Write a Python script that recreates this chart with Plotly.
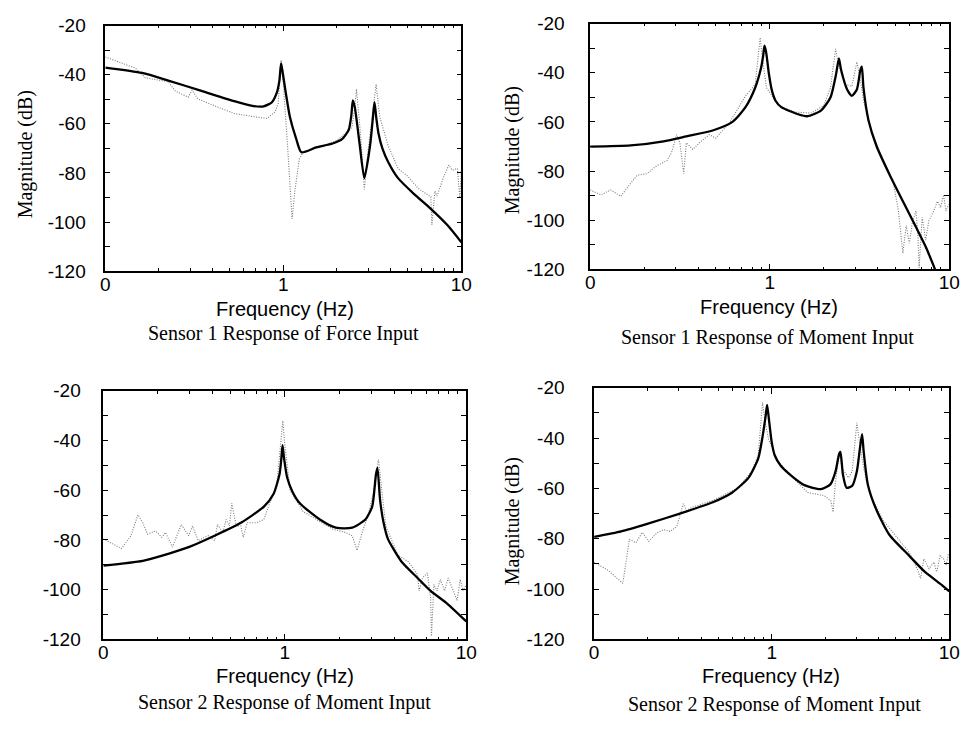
import plotly.graph_objects as go

# ---------------- data ----------------
tick_vals = [0.1, 1, 10]
tick_text = ["0", "1", "10"]
y_tick_vals = [-120, -110, -100, -90, -80, -70, -60, -50, -40, -30, -20]
y_tick_text = ["-120", "", "-100", "", "-80", "", "-60", "", "-40", "", "-20"]

captions = ["Sensor 1 Response of Force Input", "Sensor 1 Response of Moment Input",
            "Sensor 2 Response of Moment Input", "Sensor 2 Response of Moment Input"]

# Panel 1 – model fit (solid)
p1_fit_f = [0.1, 0.161, 0.226, 0.347, 0.53, 0.683, 0.775, 0.863, 0.92, 0.95, 0.971, 0.99, 1.03, 1.088, 1.18, 1.263,
            1.53, 1.89, 2.145, 2.33, 2.41, 2.456, 2.52, 2.68, 2.85, 3.07, 3.18, 3.25, 3.32, 3.42, 3.6, 3.88, 4.41, 5.45, 6.74, 8.34, 10]
p1_fit_db = [-37.1, -39.3, -42.4, -46.6, -50.8, -52.8, -52.9, -51.2, -47.2, -42.5, -35.4, -38.7, -47.0, -57.1, -66.0, -71.6,
             -69.6, -68.0, -66.1, -62.4, -56.5, -50.5, -53.2, -68.0, -82.1, -68.9, -58.0, -51.2, -57.0, -63.7, -70.0, -75.5, -82.1, -88.7, -94.6, -101.2, -108.2]
# Panel 1 – measured (dotted)
p1_meas_f = [0.1, 0.148, 0.168, 0.191, 0.226, 0.247, 0.292, 0.307, 0.332, 0.428, 0.53, 0.743, 0.81, 0.9,
             0.935, 0.971, 1.0, 1.056, 1.1, 1.12, 1.16, 1.23, 1.29, 1.58, 1.97, 2.33, 2.43, 2.52, 2.575,
             2.71, 2.85, 3.0, 3.32, 3.48, 3.88, 4.41, 5.01, 5.69, 6.2, 6.74, 6.83, 7.1, 7.3, 7.9, 8.5,
             8.9, 9.5, 9.8, 10]
p1_meas_db = [-32.8, -37.4, -41.3, -42.0, -42.9, -46.6, -49.2, -46.3, -49.9, -53.2, -55.8, -57.5, -57.8, -55.1,
              -51.8, -34.1, -43.9, -68.9, -87.4, -98.6, -87.4, -74.2, -71.6, -69.6, -67.0, -63.0, -61.3, -53.2, -45.9,
              -63.7, -86.7, -70.3, -43.9, -57.1, -68.9, -78.2, -81.4, -86.1, -88.0, -89.7, -101.2, -87.4, -89.4, -82.1, -76.8,
              -78.9, -78.2, -90.0, -78.9]

# Panel 2
p2_fit_f = [0.1, 0.168, 0.256, 0.343, 0.481, 0.62, 0.733, 0.83, 0.894, 0.92, 0.935, 0.955, 0.99, 1.03, 1.08, 1.16, 1.44,
            1.62, 1.93, 2.18, 2.34, 2.43, 2.5, 2.7, 2.87, 3.06, 3.2, 3.26, 3.33, 3.55, 3.94, 4.67, 5.52,
            6.53, 7.4, 8.34]
p2_fit_db = [-70.1, -69.6, -67.9, -65.9, -63.5, -60.0, -54.0, -46.1, -38.2, -33.0, -29.0, -31.6, -40.5, -47.4, -51.5, -54.0, -56.9,
             -57.7, -55.4, -50.1, -40.8, -34.2, -38.9, -46.8, -49.4, -46.8, -38.9, -37.5, -46.1, -59.3, -69.9, -81.7, -92.3,
             -102.8, -110.8, -120.0]
p2_meas_f = [0.1, 0.115, 0.13, 0.148, 0.168, 0.183, 0.207, 0.235, 0.267, 0.284, 0.303, 0.316, 0.332, 0.343,
             0.373, 0.406, 0.46, 0.5, 0.594, 0.733, 0.83, 0.885, 0.91, 0.96, 1.12, 1.38, 1.7, 2.0, 2.18,
             2.33, 2.43, 2.64, 2.87, 3.06, 3.2, 3.33, 3.63, 4.11, 4.87, 5.2, 5.52, 5.76, 6.0, 6.26, 6.53,
             6.7, 6.8, 7.07, 7.4, 7.7, 8.2, 8.6, 8.95, 9.3, 9.6, 9.95]
p2_meas_db = [-87.7, -89.7, -87.7, -90.3, -85.0, -81.7, -81.1, -77.8, -75.8, -72.5, -65.2, -68.5, -81.1, -68.5,
              -71.2, -68.5, -65.2, -66.6, -60.6, -49.4, -44.8, -25.7, -34.2, -46.1, -53.4, -56.0, -56.4, -53.4, -46.1,
              -30.3, -37.5, -44.8, -45.5, -35.6, -42.8, -51.4, -62.0, -72.5, -84.4, -95.6, -113.4, -102.2, -109.4, -100.2, -96.3,
              -106.8, -119.3, -98.9, -108.1, -100.2, -96.3, -92.3, -94.9, -89.7, -96.3, -93.6]

# Panel 3
p3_fit_f = [0.1, 0.165, 0.23, 0.295, 0.41, 0.573, 0.767, 0.868, 0.935, 0.955, 0.971, 0.99, 1.03, 1.1, 1.21, 1.56,
            1.91, 2.35, 2.78, 3.03, 3.18, 3.24, 3.35, 3.5, 3.7, 4.4, 5.39, 6.36, 7.87, 10]
p3_fit_db = [-90.3, -88.4, -85.5, -82.9, -78.3, -73.1, -66.6, -61.4, -53.6, -48.0, -41.9, -47.1, -54.9, -60.5, -65.3, -71.8,
             -75.1, -75.1, -71.8, -66.6, -53.6, -51.0, -64.0, -73.0, -79.6, -88.8, -95.3, -100.5, -105.7, -112.8]
p3_meas_f = [0.1, 0.113, 0.126, 0.142, 0.155, 0.165, 0.175, 0.194, 0.21, 0.22, 0.24, 0.269, 0.295, 0.31,
             0.333, 0.378, 0.41, 0.426, 0.455, 0.475, 0.495, 0.51, 0.54, 0.573, 0.59, 0.62, 0.7, 0.767,
             0.83, 0.9, 0.975, 1.0, 1.07, 1.26, 1.56, 1.84, 2.16, 2.35, 2.5, 2.67, 2.9, 3.07, 3.28,
             3.42, 3.6, 4.2, 4.8, 5.39, 5.5, 5.74, 6.1, 6.36, 6.43, 6.63, 6.9, 7.2, 7.6, 7.95, 8.5,
             8.9, 9.26, 9.6, 10]
p3_meas_db = [-79.6, -81.6, -83.5, -78.3, -69.9, -73.1, -77.7, -76.4, -79.0, -77.0, -82.9, -73.8, -78.3, -74.4,
              -80.3, -78.3, -80.3, -73.8, -77.0, -71.8, -74.4, -65.3, -74.4, -74.4, -79.0, -73.1, -73.1, -71.8,
              -64.7, -58.8, -32.1, -41.9, -60.1, -68.6, -72.5, -75.7, -77.0, -78.3, -84.2, -77.0, -69.2, -61.4, -47.7,
              -58.8, -74.4, -86.1, -88.8, -94.0, -100.5, -95.3, -93.3, -103.1, -118.7, -97.9, -100.5, -95.9, -100.5, -95.3, -100.5,
              -104.4, -95.9, -100.5, -97.9]

# Panel 4
p4_fit_f = [0.1, 0.142, 0.199, 0.304, 0.466, 0.6, 0.74, 0.84, 0.89, 0.927, 0.943, 0.968, 1.0, 1.04, 1.12, 1.24,
            1.53, 1.89, 2.14, 2.29, 2.4, 2.44, 2.52, 2.64, 2.84, 3.02, 3.14, 3.23, 3.3, 3.48, 3.9, 4.6,
            5.96, 7.3, 9.1, 10]
p4_fit_db = [-79.3, -77.1, -74.1, -70.0, -65.5, -61.6, -55.8, -48.1, -39.1, -30.7, -26.8, -33.3, -41.5, -46.8, -50.8, -53.9,
             -58.7, -60.3, -58.4, -53.2, -46.2, -45.5, -54.5, -59.7, -59.0, -53.2, -44.2, -38.4, -45.5, -58.4, -68.7, -78.4,
             -86.8, -93.2, -98.4, -100.9]
p4_meas_f = [0.1, 0.12, 0.145, 0.158, 0.172, 0.187, 0.203, 0.226, 0.246, 0.268, 0.292, 0.304, 0.318, 0.331,
             0.36, 0.466, 0.65, 0.77, 0.84, 0.888, 0.92, 0.96, 1.09, 1.35, 1.59, 1.98, 2.15, 2.22, 2.28,
             2.4, 2.5, 2.71, 2.84, 3.02, 3.14, 3.3, 3.58, 4.23, 5.0, 5.96, 6.6, 6.9, 7.2, 7.7, 8.2,
             8.5, 8.9, 9.3, 9.6, 9.9]
p4_meas_db = [-89.3, -92.6, -97.7, -80.3, -81.6, -77.5, -81.0, -77.7, -76.4, -77.1, -75.2, -71.3, -66.1, -68.7,
              -67.4, -64.8, -59.7, -53.2, -46.8, -25.9, -33.9, -40.4, -49.4, -56.5, -61.6, -62.9, -64.8, -69.4, -58.4,
              -46.2, -52.0, -55.8, -53.2, -33.9, -42.9, -52.0, -62.3, -72.6, -79.0, -85.5, -91.9, -95.8, -88.0, -91.9, -89.3,
              -93.2, -86.8, -88.0, -90.6, -86.1]

panels = [
    (p1_fit_f, p1_fit_db, p1_meas_f, p1_meas_db),
    (p2_fit_f, p2_fit_db, p2_meas_f, p2_meas_db),
    (p3_fit_f, p3_fit_db, p3_meas_f, p3_meas_db),
    (p4_fit_f, p4_fit_db, p4_meas_f, p4_meas_db),
]

# ---------------- layout geometry (pixels) ----------------
W, H = 972, 730
boxes = [  # left, right, top, bottom
    (102, 464, 16, 269),
    (595, 960, 14, 267),
    (100, 469, 392, 648),
    (599, 960, 389, 648),
]
ylabel_pos = [(21, 149), (516, 145), None, (516, 527)]
xtitle_pos = [(285, 308), (777, 306), (285, 686), (779, 686)]
caption_pos = [(283, 333), (775, 337), (284, 713), (782, 715)]
ylab_standoff = [14, 20, 17, 24]

minor_x = [v * m for v in (0.1, 1) for m in range(2, 10)]

fig = go.Figure()
layout = dict(width=W, height=H, margin=dict(l=0, r=0, t=0, b=0),
              paper_bgcolor="white", plot_bgcolor="white", showlegend=False)
annotations = []

for i, (ff, fd, mf, md) in enumerate(panels):
    n = "" if i == 0 else str(i + 1)
    xa, ya = "x" + n, "y" + n
    fig.add_trace(go.Scatter(x=mf, y=md, mode="lines", xaxis=xa, yaxis=ya,
                             line=dict(color="#7a7a7a", width=1.1, dash="1px,1.5px")))
    fig.add_trace(go.Scatter(x=ff, y=fd, mode="lines", xaxis=xa, yaxis=ya,
                             line=dict(color="black", width=2.3, shape="spline", smoothing=0.6)))
    l, r, t, b = boxes[i]
    layout["xaxis" + n] = dict(
        type="log", range=[-1, 1], domain=[l / W, r / W], anchor=ya,
        tickmode="array", tickvals=tick_vals, ticktext=tick_text,
        ticks="inside", ticklen=6, tickwidth=1.2, tickcolor="black",
        minor=dict(tickmode="array", tickvals=minor_x, ticks="inside", ticklen=3, tickcolor="black"),
        showline=True, linecolor="black", linewidth=1.6, mirror="allticks",
        showgrid=False, zeroline=False, ticklabelstandoff=-5,
        tickfont=dict(family="Liberation Sans, Arial", size=19, color="black"))
    layout["yaxis" + n] = dict(
        range=[-120, -20], domain=[1 - b / H, 1 - t / H], anchor=xa,
        tickmode="array", tickvals=y_tick_vals, ticktext=y_tick_text,
        ticks="inside", ticklen=5, tickwidth=1.2, tickcolor="black",
        showline=True, linecolor="black", linewidth=1.6, mirror="allticks",
        showgrid=False, zeroline=False, ticklabelstandoff=ylab_standoff[i],
        tickfont=dict(family="Liberation Sans, Arial", size=19, color="black"))
    x, y = xtitle_pos[i]
    annotations.append(dict(text="Frequency (Hz)", x=x / W, y=1 - y / H, xref="paper", yref="paper",
                            showarrow=False, xanchor="center", yanchor="middle",
                            font=dict(family="Liberation Sans, Arial", size=20, color="black")))
    x, y = caption_pos[i]
    annotations.append(dict(text=captions[i], x=x / W, y=1 - y / H, xref="paper", yref="paper",
                            showarrow=False, xanchor="center", yanchor="middle",
                            font=dict(family="Liberation Serif, Times New Roman", size=20, color="black")))
    if ylabel_pos[i] is not None:
        x, y = ylabel_pos[i]
        annotations.append(dict(text="Magnitude (dB)", x=x / W, y=1 - y / H, xref="paper", yref="paper",
                                showarrow=False, xanchor="center", yanchor="middle", textangle=-90,
                                font=dict(family="Liberation Serif, Times New Roman", size=20, color="black")))

layout["annotations"] = annotations
fig.update_layout(**layout)
fig.write_html("out.html")
